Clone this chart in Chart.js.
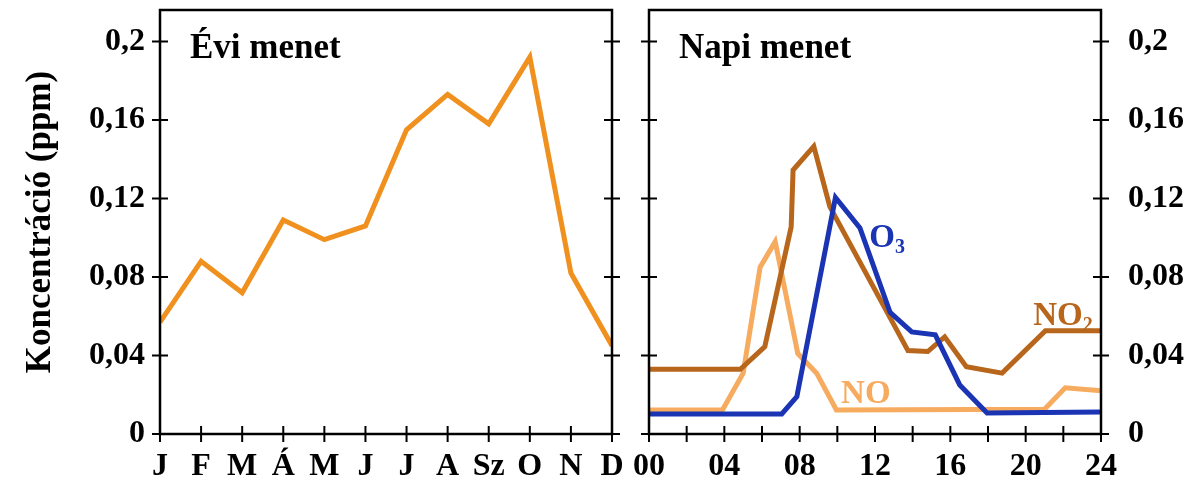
<!DOCTYPE html>
<html>
<head>
<meta charset="utf-8">
<script src="https://cdn.jsdelivr.net/npm/chart.js@4/dist/chart.umd.min.js"></script>
<style>
  html, body { margin: 0; padding: 0; background: #fff; }
  #wrap { position: relative; width: 1199px; height: 485px; }
  canvas { position: absolute; top: 0; }
  #evi  { left: 0; }
  #napi { left: 630px; }
</style>
</head>
<body>
<div id="wrap">
  <canvas id="evi"  width="630" height="485"></canvas>
  <canvas id="napi" width="569" height="485"></canvas>
</div>
<script>
// ── Adatok ───────────────────────────────────────────────────────────────────
const MONTHS  = ['J', 'F', 'M', 'Á', 'M', 'J', 'J', 'A', 'Sz', 'O', 'N', 'D'];
const ANNUAL  = [0.057, 0.088, 0.072, 0.109, 0.099, 0.106, 0.155, 0.173, 0.158, 0.192, 0.082, 0.045];

const Y_TICKS = [0, 0.04, 0.08, 0.12, 0.16, 0.2];
const Y_MAX   = 0.216;

const HOUR_TICKS  = [0, 2, 4, 6, 8, 10, 12, 14, 16, 18, 20, 22, 24];
const HOUR_LABELS = ['00', '', '04', '', '08', '', '12', '', '16', '', '20', '', '24'];

// napi menet: óra / koncentráció (ppm)
const NO2_H = [0, 4.85, 6.15, 7.55, 7.65, 8.75, 9.6, 13.75, 14.8, 15.7, 16.85, 18.75, 21.05, 24];
const NO2_V = [0.033, 0.033, 0.0445, 0.1055, 0.1345, 0.1465, 0.1158, 0.0425, 0.042, 0.0495, 0.0343, 0.031, 0.0526, 0.0526];
const NO_H  = [0, 3.9, 5.0, 5.9, 6.7, 7.9, 8.9, 9.95, 21.0, 22.1, 24];
const NO_V  = [0.0122, 0.0122, 0.031, 0.085, 0.098, 0.041, 0.031, 0.0122, 0.0126, 0.0235, 0.022];
const O3_H  = [0, 7.05, 7.85, 9.9, 11.2, 12.8, 13.95, 15.2, 16.5, 17.95, 24];
const O3_V  = [0.0102, 0.0102, 0.019, 0.1205, 0.105, 0.062, 0.052, 0.0505, 0.025, 0.0107, 0.0112];

// ── Stílus ───────────────────────────────────────────────────────────────────
const SERIF  = "'Liberation Serif', 'Times New Roman', serif";
const C_EVI  = '#f0901f';
const C_NO2  = '#b8661c';
const C_NO   = '#f6ab5f';
const C_O3   = '#1a34b4';

Chart.defaults.font.family = SERIF;
Chart.defaults.font.weight = 'bold';
Chart.defaults.color = '#000';
Chart.defaults.devicePixelRatio = 1;

const toXY = (xs, ys) => xs.map((x, i) => ({ x, y: ys[i] }));
// fix méret, a feliratok miatti extra margó nélkül
const fix = (prop, v) => s => {
  s[prop] = v;
  s.paddingTop = s.paddingBottom = s.paddingLeft = s.paddingRight = 0;
};

// keret + kétoldalt átnyúló osztásjelek, feliratok
const frame = {
  id: 'frame',
  afterDatasetsDraw(chart, args, opts) {
    const { ctx, chartArea: a, scales } = chart;
    const T = 8;
    ctx.save();
    ctx.strokeStyle = '#000';
    ctx.lineWidth = 2.5;
    ctx.strokeRect(a.left, a.top, a.width, a.height);
    ctx.lineWidth = 2;
    ctx.beginPath();
    scales.y.ticks.forEach(t => {
      const y = scales.y.getPixelForValue(t.value);
      [a.left, a.right].forEach(x => { ctx.moveTo(x - T, y); ctx.lineTo(x + T, y); });
    });
    scales.x.ticks.forEach(t => {
      const x = scales.x.getPixelForValue(t.value);
      ctx.moveTo(x, a.bottom - T); ctx.lineTo(x, a.bottom + T);
    });
    ctx.stroke();

    ctx.textBaseline = 'alphabetic';
    ctx.textAlign = 'left';
    ctx.fillStyle = '#000';
    ctx.font = `bold 35px ${SERIF}`;
    ctx.fillText(opts.title, a.left + 30, a.top + 48);

    (opts.labels || []).forEach(l => {
      const x = scales.x.getPixelForValue(l.x);
      const y = scales.y.getPixelForValue(l.y);
      ctx.fillStyle = l.color;
      ctx.font = `bold 33px ${SERIF}`;
      ctx.fillText(l.text, x, y);
      if (l.sub) {
        const w = ctx.measureText(l.text).width;
        ctx.font = `bold 20px ${SERIF}`;
        ctx.fillText(l.sub, x + w, y + 6);
      }
    });
    ctx.restore();
  }
};

const yScale = (position, padding, extra) => Object.assign({
  type: 'linear',
  position,
  min: 0,
  max: Y_MAX,
  afterBuildTicks: s => { s.ticks = Y_TICKS.map(v => ({ value: v })); },
  grid: { display: false, drawTicks: false },
  border: { display: false },
  ticks: {
    padding,
    font: { size: 32, weight: 'bold' },
    callback: v => String(v).replace('.', ','),
  },
}, extra);

const lineDs = (label, data, color, width) => ({
  label, data,
  borderColor: color,
  borderWidth: width,
  borderJoinStyle: 'miter',
  tension: 0,
  pointRadius: 0,
  fill: false,
});

// ── Évi menet ────────────────────────────────────────────────────────────────
new Chart(document.getElementById('evi'), {
  type: 'line',
  data: { datasets: [lineDs('Évi menet', toXY(MONTHS.map((m, i) => i), ANNUAL), C_EVI, 5)] },
  options: {
    responsive: false,
    animation: false,
    layout: { padding: { top: 10, right: 18, left: 0, bottom: 0 } },
    plugins: {
      legend: { display: false },
      tooltip: { enabled: false },
      frame: { title: 'Évi menet' },
    },
    scales: {
      x: {
        type: 'linear',
        min: 0, max: MONTHS.length - 1,
        afterBuildTicks: s => { s.ticks = MONTHS.map((m, i) => ({ value: i })); },
        afterFit: fix('height', 51),
        grid: { display: false, drawTicks: false },
        border: { display: false },
        ticks: {
          padding: 14, autoSkip: false, maxRotation: 0,
          font: { size: 32, weight: 'bold' },
          callback: v => MONTHS[v],
        },
      },
      y: yScale('left', 15, {
        afterFit: fix('width', 160),
        title: {
          display: true,
          text: 'Koncentráció (ppm)',
          font: { size: 35, weight: 'bold' },
          padding: { top: 20, bottom: 0 },
        },
      }),
    },
  },
  plugins: [frame],
});

// ── Napi menet ───────────────────────────────────────────────────────────────
new Chart(document.getElementById('napi'), {
  type: 'line',
  data: {
    datasets: [
      lineDs('O3',  toXY(O3_H,  O3_V),  C_O3,  5),
      lineDs('NO2', toXY(NO2_H, NO2_V), C_NO2, 5),
      lineDs('NO',  toXY(NO_H,  NO_V),  C_NO,  5),
    ],
  },
  options: {
    responsive: false,
    animation: false,
    layout: { padding: { top: 10, right: 0, left: 19, bottom: 0 } },
    plugins: {
      legend: { display: false },
      tooltip: { enabled: false },
      frame: {
        title: 'Napi menet',
        labels: [
          { text: 'O',  sub: '3', x: 11.7, y: 0.0955, color: C_O3 },
          { text: 'NO', sub: '2', x: 20.4, y: 0.0556, color: C_NO2 },
          { text: 'NO',           x: 10.2, y: 0.0158, color: C_NO },
        ],
      },
    },
    scales: {
      x: {
        type: 'linear',
        min: 0, max: 24,
        afterBuildTicks: s => { s.ticks = HOUR_TICKS.map(v => ({ value: v })); },
        afterFit: fix('height', 51),
        grid: { display: false, drawTicks: false },
        border: { display: false },
        ticks: {
          padding: 14, autoSkip: false, maxRotation: 0,
          font: { size: 32, weight: 'bold' },
          callback: (v, i) => HOUR_LABELS[i],
        },
      },
      y: yScale('right', 27, { afterFit: fix('width', 98) }),
    },
  },
  plugins: [frame],
});
</script>
</body>
</html>
